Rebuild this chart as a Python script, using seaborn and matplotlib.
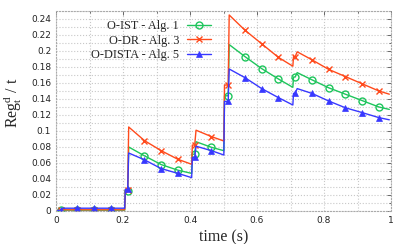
import numpy as np
import pandas as pd
import matplotlib
matplotlib.use('Agg')
import matplotlib.pyplot as plt
import seaborn as sns
from matplotlib.lines import Line2D
from matplotlib.ticker import MultipleLocator, FuncFormatter

# time samples (s), shared by the three series
t = [0.003, 0.014, 0.022, 0.064, 0.114, 0.164, 0.205,
     0.207, 0.214, 0.217, 0.264, 0.314, 0.364, 0.405,
     0.407, 0.414, 0.418, 0.464, 0.501,
     0.503, 0.514, 0.517, 0.564, 0.614, 0.664, 0.707,
     0.709, 0.714, 0.72, 0.764, 0.814, 0.864, 0.914, 0.964, 0.995]

# times where a marker is drawn
mark_t = [0.014, 0.064, 0.114, 0.164, 0.214, 0.264, 0.314, 0.364, 0.414, 0.464,
          0.514, 0.564, 0.614, 0.664, 0.714, 0.764, 0.814, 0.864, 0.914, 0.964]

o_ist = [0.0005, 0.0008, 0.001, 0.001, 0.001, 0.001, 0.001,
         0.025, 0.025, 0.080, 0.069, 0.058, 0.051, 0.047,
         0.071, 0.071, 0.0866, 0.0796, 0.0754,
         0.144, 0.144, 0.208, 0.193, 0.178, 0.165, 0.1546,
         0.1675, 0.1675, 0.173, 0.164, 0.154, 0.146, 0.138, 0.130, 0.127]

o_dr = [0.0008, 0.0012, 0.0015, 0.0015, 0.0015, 0.0015, 0.0015,
        0.026, 0.026, 0.105, 0.088, 0.0754, 0.0646, 0.0584,
        0.0825, 0.0825, 0.101, 0.093, 0.0875,
        0.1575, 0.1575, 0.245, 0.226, 0.209, 0.192, 0.181,
        0.193, 0.193, 0.199, 0.189, 0.177, 0.168, 0.159, 0.150, 0.146]

o_dista = [0.0005, 0.001, 0.0035, 0.0035, 0.0035, 0.0035, 0.0035,
           0.027, 0.027, 0.0725, 0.064, 0.053, 0.047, 0.0417,
           0.067, 0.067, 0.081, 0.0754, 0.070,
           0.137, 0.137, 0.1775, 0.1667, 0.153, 0.1417, 0.1325,
           0.147, 0.147, 0.153, 0.147, 0.1375, 0.129, 0.123, 0.1167, 0.114]

labels = ['O-IST - Alg. 1', 'O-DR - Alg. 3', 'O-DISTA - Alg. 5']
colors = ['#1ec55c', '#ff4a1c', '#3838ff']

sns.set_style('white')
plt.rcParams['mathtext.fontset'] = 'custom'
plt.rcParams['mathtext.rm'] = 'Liberation Serif'
plt.rcParams['mathtext.it'] = 'Liberation Serif:italic'

fig = plt.figure(figsize=(4.07, 2.44), dpi=100)
ax = fig.add_axes([56/407, 1 - 211/244, 335/407, 200/244])

idx = [t.index(m) for m in mark_t]
series = [o_ist, o_dr, o_dista]
mstyle = [dict(marker='o', ms=5, mfc='none', mew=1.0),
          dict(marker='x', ms=5, mew=1.0),
          dict(marker='^', ms=5, mew=0.5)]

handles = []
for vals, lab, c, ms in zip(series, labels, colors, mstyle):
    df = pd.DataFrame({'t': t, 'v': vals})
    sns.lineplot(data=df, x='t', y='v', color=c, lw=1.0, ax=ax, legend=False)
    ax.plot([t[i] for i in idx], [vals[i] for i in idx], ls='none',
            color=c, mec=c, **ms)
    handles.append(Line2D([], [], color=c, lw=1.0, mec=c, **ms))

ax.set_xlim(0, 1)
ax.set_ylim(0, 0.25)
ax.xaxis.set_major_locator(MultipleLocator(0.2))
ax.xaxis.set_minor_locator(MultipleLocator(0.1))
ax.yaxis.set_major_locator(MultipleLocator(0.02))
ax.yaxis.set_minor_locator(MultipleLocator(0.01))
ax.xaxis.set_major_formatter(FuncFormatter(lambda v, p: f'{v:g}'))
ax.yaxis.set_major_formatter(FuncFormatter(lambda v, p: f'{v:g}'))

ax.grid(True, which='both', ls=':', color='#c8c8c8', lw=0.8)
ax.tick_params(which='both', direction='in', top=True, right=True,
               colors='#555555', labelcolor='#222222', labelsize=6.5)
ax.tick_params(which='major', length=3, width=0.6)
ax.tick_params(which='minor', length=1.5, width=0.6)
for s in ax.spines.values():
    s.set_linestyle(':')
    s.set_color('#aaaaaa')
    s.set_linewidth(0.8)

ax.set_xlabel('time (s)', family='Liberation Serif', fontsize=11.5, labelpad=3)
ax.set_ylabel(r'$\mathrm{Reg}^{\mathrm{d}}_{\mathrm{t}}$ / t', family='Liberation Serif',
              fontsize=11.5)
ax.yaxis.set_label_coords(-0.098, 0.54)

leg = ax.legend(handles, labels, loc='upper right', bbox_to_anchor=(0.48, 0.985),
                frameon=False, markerfirst=False, handlelength=1.9, handletextpad=0.7,
                borderpad=0, labelspacing=0.2,
                prop={'family': 'Liberation Serif', 'size': 8.8})

fig.savefig('out.png', dpi=100)
